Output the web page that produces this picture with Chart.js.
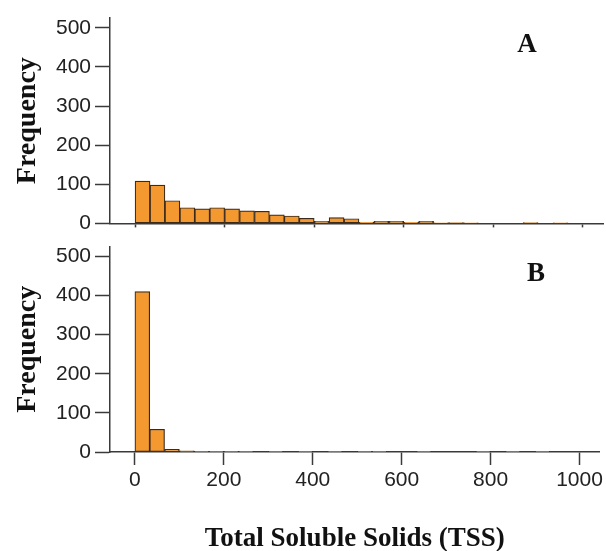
<!DOCTYPE html>
<html>
<head>
<meta charset="utf-8">
<script src="https://cdn.jsdelivr.net/npm/chart.js@4.4.1/dist/chart.umd.min.js"></script>
<style>
  body { margin: 0; background: #fff; }
  #wrap { position: relative; width: 606px; height: 551px; }
  #chartA { position: absolute; left: 0; top: 0; }
  #chartB { position: absolute; left: 0; top: 230px; }
</style>
</head>
<body>
<div id="wrap">
  <canvas id="chartA" width="606" height="240"></canvas>
  <canvas id="chartB" width="606" height="321"></canvas>
</div>
<script>
// ヒストグラムのビン(幅 1000/30)
var binWidth = 1000 / 30;
var binCenters = [];
for (var i = 0; i < 29; i++) {
    binCenters.push(binWidth * i + binWidth / 2);
}

// A: 度数
var freqA = [108, 98, 58, 40, 37, 40, 37, 32, 31, 22, 19, 13, 5, 15, 12, 3, 5, 5, 3, 5, 1, 2, 1, 0, 0, 0, 2, 0, 1];
// B: 度数
var freqB = [410, 58, 7, 3, 2, 1, 1, 1, 0, 1, 0, 1, 0, 1, 0, 1, 1, 0, 0, 1, 0, 0, 0, 1, 0, 1, 0, 1, 0];

var yTicks = [0, 100, 200, 300, 400, 500];
var xTicks = [0, 200, 400, 600, 800, 1000];

var barFill = '#f4992f';
var barLine = '#3b2b1c';
var axisColor = '#3a3a3a';

function toPoints(values) {
    var pts = [];
    for (var i = 0; i < values.length; i++) {
        pts.push({ x: binCenters[i], y: values[i] });
    }
    return pts;
}

// パネル記号(A, B)を描く
function panelLetter(letter, x, y) {
    return {
        id: 'letter' + letter,
        afterDraw: function(chart) {
            var c = chart.ctx;
            c.save();
            c.font = 'bold 27px "Liberation Serif", "Times New Roman", serif';
            c.fillStyle = '#111';
            c.textAlign = 'center';
            c.textBaseline = 'alphabetic';
            c.fillText(letter, x, y);
            c.restore();
        }
    };
}

function makeChart(el, values, letter, letterY, bottomAxis) {
    return new Chart(el, {
        type: 'bar',
        data: {
            datasets: [{
                data: toPoints(values),
                backgroundColor: barFill,
                borderColor: barLine,
                borderWidth: 1.2,
                borderSkipped: false,
                barPercentage: 1,
                categoryPercentage: 1
            }]
        },
        options: {
            responsive: false,
            animation: false,
            layout: { padding: { top: bottomAxis ? 15 : 18, right: 3, left: 0, bottom: 0 } },
            plugins: { legend: { display: false }, tooltip: { enabled: false } },
            scales: {
                x: {
                    type: 'linear',
                    min: -56,
                    max: 1045,
                    offset: false,
                    afterBuildTicks: function(axis) {
                        axis.ticks = xTicks.map(function(v) { return { value: v }; });
                    },
                    border: { display: true, color: axisColor, width: 1.5 },
                    grid: { offset: false, drawOnChartArea: false, drawTicks: true, tickLength: bottomAxis ? 13 : 4, tickColor: axisColor, tickWidth: 1.5 },
                    ticks: {
                        display: bottomAxis,
                        color: '#222',
                        padding: 3,
                        maxRotation: 0,
                        callback: function(v) { return String(v); },
                        font: { family: '"Liberation Sans", Arial, sans-serif', size: 21 }
                    },
                    title: {
                        display: bottomAxis,
                        text: 'Total Soluble Solids (TSS)',
                        color: '#111',
                        padding: { top: 0, bottom: 0 },
                        font: { family: '"Liberation Serif", "Times New Roman", serif', size: 27, weight: 'bold', lineHeight: 0.9 }
                    },
                    afterFit: function(axis) {
                        axis.height = bottomAxis ? 99 : 16;
                    }
                },
                y: {
                    min: 0,
                    max: 525,
                    afterBuildTicks: function(axis) {
                        axis.ticks = yTicks.map(function(v) { return { value: v }; });
                    },
                    border: { display: true, color: axisColor, width: 1.5 },
                    grid: { drawOnChartArea: false, drawTicks: true, tickLength: 15, tickColor: axisColor, tickWidth: 1.5 },
                    ticks: {
                        color: '#222',
                        padding: 4,
                        font: { family: '"Liberation Sans", Arial, sans-serif', size: 21 }
                    },
                    title: {
                        display: true,
                        text: 'Frequency',
                        color: '#111',
                        padding: { top: 11, bottom: 0 },
                        font: { family: '"Liberation Serif", "Times New Roman", serif', size: 28, weight: 'bold' }
                    },
                    afterFit: function(axis) {
                        axis.width = 110;
                    }
                }
            }
        },
        plugins: [panelLetter(letter, bottomAxis ? 536 : 527, letterY)]
    });
}

var chartA = makeChart(document.getElementById('chartA'), freqA, 'A', 52, false);
var chartB = makeChart(document.getElementById('chartB'), freqB, 'B', 281 - 230, true);
</script>
</body>
</html>
